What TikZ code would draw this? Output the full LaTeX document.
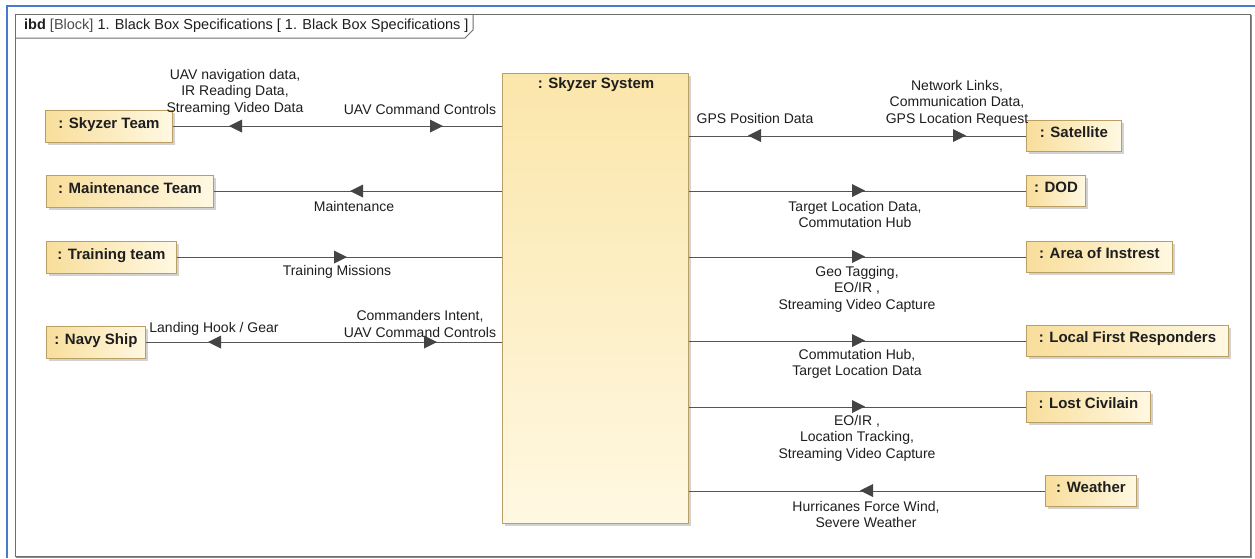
\documentclass[tikz,border=0pt]{standalone}
\usepackage{fontspec}
\setmainfont{Liberation Sans}
\usetikzlibrary{shadows}

\definecolor{frameblue}{RGB}{72,122,205}
\definecolor{framegray}{RGB}{110,110,110}
\definecolor{partL}{RGB}{248,222,155}
\definecolor{partR}{RGB}{255,248,226}
\definecolor{blockT}{RGB}{251,230,170}
\definecolor{blockB}{RGB}{255,248,226}
\definecolor{partedge}{RGB}{186,158,100}
\definecolor{wire}{RGB}{85,85,85}
\definecolor{tipfill}{RGB}{68,68,68}
\definecolor{ink}{RGB}{30,30,30}

\tikzset{
  part/.style={draw=partedge, line width=0.9pt, left color=partL, right color=partR,
    drop shadow={shadow xshift=3pt, shadow yshift=-3pt, fill=black!35, opacity=0.5},
    font=\fontsize{15}{17}\selectfont\bfseries, text=ink, anchor=north west,
    inner sep=0pt, text height=11pt, text depth=7pt},
  blockpart/.style={draw=partedge, line width=0.9pt, top color=blockT, bottom color=blockB,
    drop shadow={shadow xshift=3pt, shadow yshift=-3pt, fill=black!35, opacity=0.5},
    anchor=north west, inner sep=0pt},
  wirelabel/.style={font=\fontsize{14}{16.5}\selectfont, text=ink, align=center, inner sep=0pt},
  conn/.style={draw=wire, line width=0.9pt},
  tipR/.pic={\fill[tipfill] (0,0) -- (-13,-6.5) -- (-13,6.5) -- cycle;},
  tipL/.pic={\fill[tipfill] (0,0) -- (13,-6.5) -- (13,6.5) -- cycle;},
}

\begin{document}
\begin{tikzpicture}[x=1pt, y=-1pt]
  \useasboundingbox (0,0) rectangle (1255,558);
  \fill[white] (0,0) rectangle (1255,558);

  % window edge
  \draw[frameblue, line width=2pt] (7,558) -- (7,5.5) -- (1255,5.5);

  % diagram frame with its name tab
  \draw[black!45, line width=1.6pt] (1250.8,15) -- (1250.8,556.8) -- (16,556.8);
  \draw[framegray, line width=1pt] (15.5,14) rectangle (1250,556);
  \draw[framegray, line width=1pt] (15.5,38) -- (465,38) -- (473,30) -- (473,14);
  \node[anchor=west, inner sep=0pt, font=\fontsize{14.5}{16}\selectfont, text=ink] (frametitle) at (24,26)
    {\textbf{ibd} \textcolor{black!70}{[Block]} 1. Black Box Specifications [ 1. Black Box Specifications ]};

  % system block
  \node[blockpart, minimum width=186pt, minimum height=450pt] (sys) at (502,73) {};
  \node[font=\fontsize{15}{17}\selectfont\bfseries, text=ink, inner sep=0pt] (systitle) at (596,85) {: Skyzer System};

  % external parts, left
  \node[part, minimum width=127pt, minimum height=32pt] (st) at (45,110) {: Skyzer Team};
  \node[part, minimum width=167pt, minimum height=32pt] (mt) at (46,175) {: Maintenance Team};
  \node[part, minimum width=130pt, minimum height=32pt] (tt) at (46,241) {: Training team};
  \node[part, minimum width=99pt, minimum height=32pt] (ns) at (46,326) {: Navy Ship};

  % external parts, right
  \node[part, minimum width=95pt, minimum height=31pt] (sat) at (1026,120) {: Satellite};
  \node[part, minimum width=59pt, minimum height=31pt] (dod) at (1026,175) {: DOD};
  \node[part, minimum width=146pt, minimum height=31pt] (aoi) at (1026,241) {: Area of Instrest};
  \node[part, minimum width=202pt, minimum height=31pt] (lfr) at (1026,325) {: Local First Responders};
  \node[part, minimum width=124pt, minimum height=31pt] (lc) at (1026,391) {: Lost Civilain};
  \node[part, minimum width=91pt, minimum height=31pt] (wx) at (1045,475) {: Weather};

  % connectors, left
  \draw[conn] (st.east) -- (st.east -| sys.west);
  \pic at (229,126) {tipL};
  \pic at (443,126) {tipR};
  \node[wirelabel] (l1a) at (235,92) {UAV navigation data,\\IR Reading Data,\\Streaming Video Data};
  \node[wirelabel] (l1b) at (420,109) {UAV Command Controls};

  \draw[conn] (mt.east) -- (mt.east -| sys.west);
  \pic at (350,191) {tipL};
  \node[wirelabel] (l2) at (354,206) {Maintenance};

  \draw[conn] (tt.east) -- (tt.east -| sys.west);
  \pic at (347,257) {tipR};
  \node[wirelabel] (l3) at (337,272) {Training Missions};

  \draw[conn] (ns.east) -- (ns.east -| sys.west);
  \pic at (208,342) {tipL};
  \pic at (437,342) {tipR};
  \node[wirelabel] (l4a) at (214,329) {Landing Hook / Gear};
  \node[wirelabel] (l4b) at (420,324) {Commanders Intent,\\UAV Command Controls};

  % connectors, right
  \draw[conn] (sat.west -| sys.east) -- (sat.west);
  \pic at (748,135.5) {tipL};
  \pic at (966,135.5) {tipR};
  \node[wirelabel] (r1a) at (755,118) {GPS Position Data};
  \node[wirelabel] (r1b) at (957,103) {Network Links,\\Communication Data,\\GPS Location Request};

  \draw[conn] (dod.west -| sys.east) -- (dod.west);
  \pic at (865,190.5) {tipR};
  \node[wirelabel] (r2) at (855,214.5) {Target Location Data,\\Commutation Hub};

  \draw[conn] (aoi.west -| sys.east) -- (aoi.west);
  \pic at (865,256.5) {tipR};
  \node[wirelabel] (r3) at (857,289) {Geo Tagging,\\EO/IR ,\\Streaming Video Capture};

  \draw[conn] (lfr.west -| sys.east) -- (lfr.west);
  \pic at (865,340.5) {tipR};
  \node[wirelabel] (r4) at (857,364) {Commutation Hub,\\Target Location Data};

  \draw[conn] (lc.west -| sys.east) -- (lc.west);
  \pic at (865,406.5) {tipR};
  \node[wirelabel] (r5) at (857,438) {EO/IR ,\\Location Tracking,\\Streaming Video Capture};

  \draw[conn] (wx.west -| sys.east) -- (wx.west);
  \pic at (860,490.5) {tipL};
  \node[wirelabel] (r6) at (866,514.5) {Hurricanes Force Wind,\\Severe Weather};
\end{tikzpicture}
\end{document}
